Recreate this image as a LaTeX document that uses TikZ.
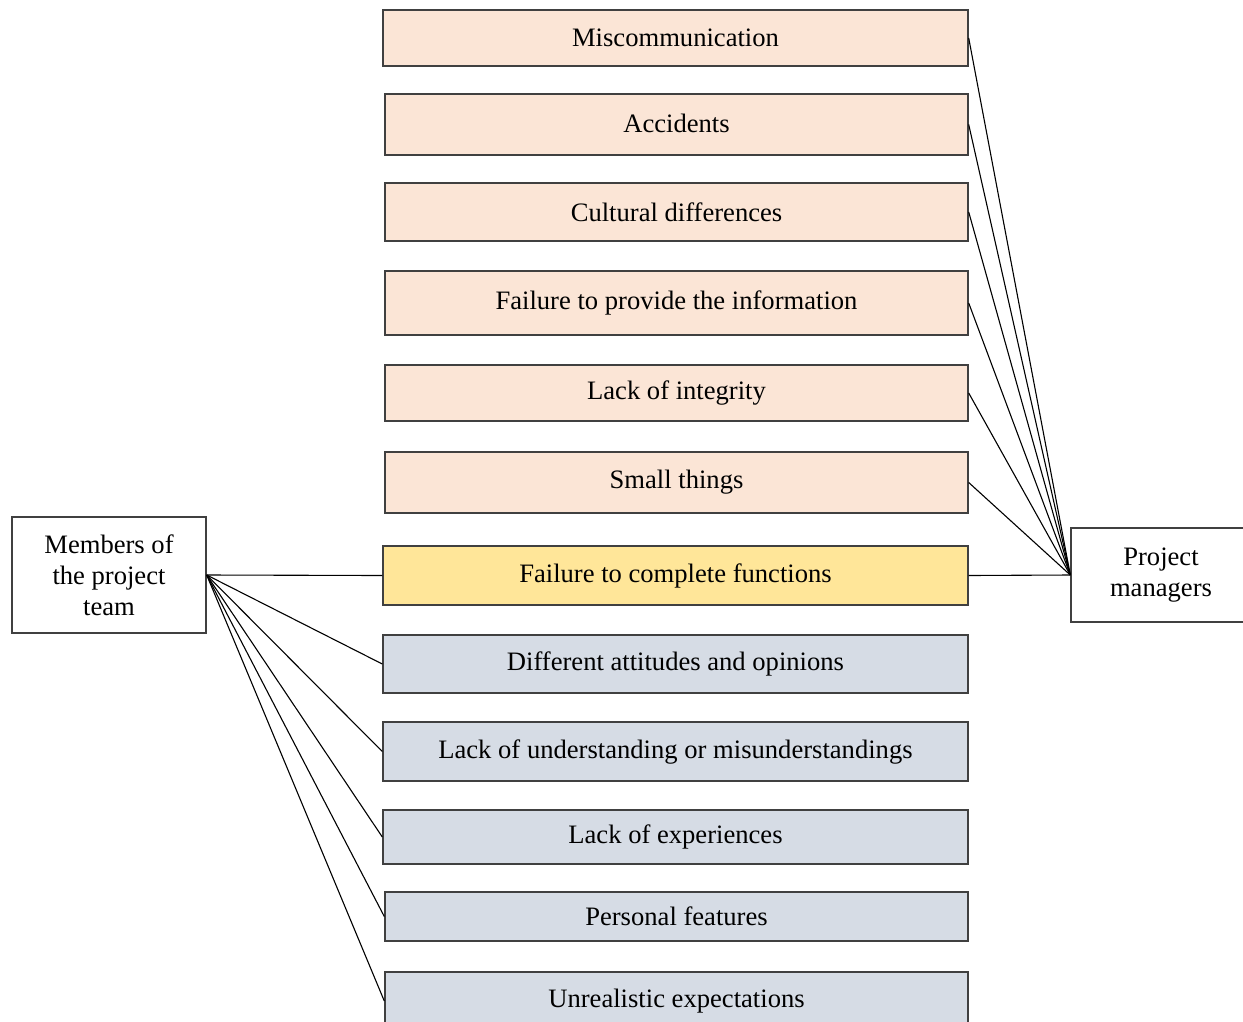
\documentclass[tikz,border=0pt]{standalone}
\usepackage{fontspec}
\setmainfont{Liberation Serif}
\definecolor{peach}{HTML}{FBE5D6}
\definecolor{gold}{HTML}{FFE699}
\definecolor{steel}{HTML}{D6DCE5}
\definecolor{rim}{HTML}{404040}
\begin{document}
\begin{tikzpicture}[x=1pt,y=-1pt,
  every node/.style={font=\fontsize{26.6}{31}\selectfont},
  box/.style={draw=rim, line width=1.4pt, rectangle, inner sep=0pt, align=center},
  cause/.style={box, fill=peach},
  core/.style={box, fill=gold},
  trait/.style={box, fill=steel},
  party/.style={box, fill=white},
  link/.style={draw=black, line width=1.1pt}]
\useasboundingbox (0,0) rectangle (1243,1021);
\clip (0,0) rectangle (1243,1021);

% causes on the managers' side
\node[cause, minimum width=585pt, minimum height=56pt] (c1) at (675.5,38) {Miscommunication};
\node[cause, minimum width=583pt, minimum height=61pt] (c2) at (676.5,124.5) {\raisebox{3pt}{Accidents}};
\node[cause, minimum width=583pt, minimum height=58pt] (c3) at (676.5,212) {Cultural differences};
\node[cause, minimum width=583pt, minimum height=64pt] (c4) at (676.5,303) {Failure to provide the information};
\node[cause, minimum width=583pt, minimum height=56pt] (c5) at (676.5,393) {Lack of integrity};
\node[cause, minimum width=583pt, minimum height=61pt] (c6) at (676.5,482.5) {Small things};

% shared cause
\node[core, minimum width=585pt, minimum height=59pt] (c7) at (675.5,575.5) {Failure to complete functions};

% causes on the team's side
\node[trait, minimum width=585pt, minimum height=58pt] (c8) at (675.5,664) {Different attitudes and opinions};
\node[trait, minimum width=585pt, minimum height=59pt] (c9) at (675.5,751.5) {Lack of understanding or misunderstandings};
\node[trait, minimum width=585pt, minimum height=54pt] (c10) at (675.5,837) {Lack of experiences};
\node[trait, minimum width=583pt, minimum height=49pt] (c11) at (676.5,916.5) {Personal features};
\node[trait, minimum width=583pt, minimum height=58pt] (c12) at (676.5,1001) {\raisebox{4pt}{Unrealistic expectations}};

% the two parties
\node[party, minimum width=194pt, minimum height=116pt] (team) at (109,575) {Members of\\the project\\team};
\node[party, minimum width=180pt, minimum height=94pt] (pm) at (1161,575) {Project\\managers};

% connectors
\foreach \c in {c1,c2,c3,c4,c5,c6,c7}
  \draw[link] (\c.east) -- (pm.west);
\foreach \c in {c7,c8,c9,c10,c11,c12}
  \draw[link] (team.east) -- (\c.west);
\end{tikzpicture}
\end{document}
